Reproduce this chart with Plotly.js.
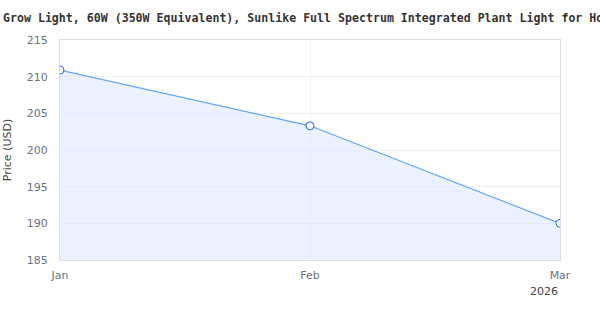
<!DOCTYPE html>
<html>
<head>
<meta charset="utf-8">
<script src="https://cdn.plot.ly/plotly-3.0.1.min.js"></script>
<style>html,body{margin:0;padding:0;background:#fff;}#chart{width:600px;height:320px;}</style>
</head>
<body>
<div id="chart"></div>
<script>
var titleText = "Grow Light, 60W (350W Equivalent), Sunlike Full Spectrum Integrated Plant Light for Home";
var months = ["Jan", "Feb", "Mar"];
var tickLabels = ["Jan", "Feb", "Mar"];
var yearLabel = "2026";
var prices = [210.9, 203.3, 190.0];
var yTicks = [185, 190, 195, 200, 205, 210, 215];

var trace = {
  x: months,
  y: prices,
  type: "scatter",
  mode: "lines+markers",
  fill: "tozeroy",
  fillcolor: "rgba(219,234,254,0.6)",
  line: {color: "#60a5fa", width: 1.2},
  marker: {size: 8, color: "#ffffff", line: {color: "#2563eb", width: 1}},
  hoverinfo: "skip"
};

var layout = {
  width: 600, height: 320,
  margin: {l: 60, r: 40, t: 40, b: 60},
  paper_bgcolor: "#ffffff",
  plot_bgcolor: "#ffffff",
  showlegend: false,
  title: {
    text: titleText,
    font: {family: "DejaVu Sans Mono", size: 11.6, color: "#333333", weight: "bold"},
    x: 0.005, xanchor: "left", xref: "container",
    y: 0.945, yanchor: "middle", yref: "container"
  },
  xaxis: {
    type: "category",
    range: [0, 2],
    tickvals: months,
    ticktext: tickLabels,
    showgrid: true,
    gridcolor: "#f2f2f2",
    showline: true, linecolor: "#dddddd", linewidth: 1, mirror: true,
    zeroline: false,
    ticks: "",
    ticklabelstandoff: 5,
    tickfont: {family: "DejaVu Sans", size: 11, color: "#6b7280"}
  },
  yaxis: {
    range: [185, 215],
    tickvals: yTicks,
    showgrid: true,
    gridcolor: "#eeeeee",
    showline: true, linecolor: "#dddddd", linewidth: 1, mirror: true,
    zeroline: false,
    ticks: "",
    ticklabelstandoff: 9,
    tickfont: {family: "DejaVu Sans", size: 11, color: "#6b7280"},
    title: {text: "Price (USD)", font: {family: "DejaVu Sans", size: 11, color: "#444444"}, standoff: 12}
  },
  annotations: [{
    text: yearLabel,
    xref: "x", yref: "paper",
    x: "Mar", y: 0, xanchor: "right", yanchor: "top",
    xshift: 0, yshift: -23,
    showarrow: false,
    font: {family: "DejaVu Sans", size: 11, color: "#444444"}
  }]
};

Plotly.newPlot("chart", [trace], layout, {staticPlot: true, displayModeBar: false});
</script>
</body>
</html>
